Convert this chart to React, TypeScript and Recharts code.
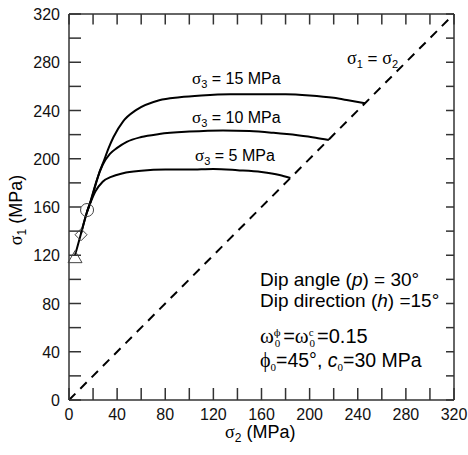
import { ComposedChart, Line, Scatter, XAxis, YAxis } from 'recharts';

// sigma_3 = 5 MPa
const s2Curve5 = [5, 10, 15, 18, 22, 28, 35, 45, 60, 80, 100, 120, 140, 160, 175, 184];
const s1Curve5 = [120, 138, 156, 164, 173, 181, 185, 188, 190, 191, 191, 191.5, 190.5, 189, 186.5, 184];

// sigma_3 = 10 MPa
const s2Curve10 = [10, 15, 18, 20, 23, 28, 34, 40, 48, 60, 75, 100, 128, 150, 170, 190, 205, 216];
const s1Curve10 = [138, 156, 165, 172, 182, 195, 204, 209, 214, 218, 220.5, 222.5, 223.5, 223, 221.5, 219.5, 217.5, 215.5];

// sigma_3 = 15 MPa
const s2Curve15 = [15, 17.5, 20, 22, 25, 28.5, 33, 37, 45, 56, 75, 92, 110, 134, 160, 180, 200, 220, 232, 246];
const s1Curve15 = [156, 163, 171, 178, 188, 197, 209, 218, 231, 240.5, 248.5, 251, 252.5, 253.5, 253.5, 253.5, 252.5, 250.5, 248.5, 246];

// sigma_1 = sigma_2 line
const s2Diag = [0, 320];
const s1Diag = [0, 320];

// start markers
const triangleStart = [{ s2: 5, s1: 118 }];
const diamondStart = [{ s2: 10, s1: 137 }];
const circleStart = [{ s2: 15, s1: 157.5 }];

const tickValues = [0, 20, 40, 60, 80, 100, 120, 140, 160, 180, 200, 220, 240, 260, 280, 300, 320];

const toPoints = (xs: number[], ys: number[]) => xs.map((s2, i) => ({ s2, s1: ys[i] }));

const curve5 = toPoints(s2Curve5, s1Curve5);
const curve10 = toPoints(s2Curve10, s1Curve10);
const curve15 = toPoints(s2Curve15, s1Curve15);
const diag = toPoints(s2Diag, s1Diag);

const sans = 'Liberation Sans, Arial, Helvetica, sans-serif';
const serif = 'Liberation Serif, Times New Roman, serif';
const axisColor = '#333';
const tickLineStyle = { stroke: axisColor, strokeWidth: 1.5 };

// negative tick sizes turn the axis ticks inward
const bottomTickSize = -12;
const leftTickSize = -12;

const isMajor = (v: number) => v % 40 === 0;

function BottomLabel({ x, y, payload }: any) {
  if (!isMajor(payload.value)) return <g />;
  return (
    <text x={x} y={y - bottomTickSize + 20} textAnchor="middle" fontSize={16} fontFamily={sans} fill="#111">
      {payload.value}
    </text>
  );
}

function LeftLabel({ x, y, payload }: any) {
  if (!isMajor(payload.value)) return <g />;
  return (
    <text x={x + leftTickSize - 9} y={y + 6} textAnchor="end" fontSize={16} fontFamily={sans} fill="#111">
      {payload.value}
    </text>
  );
}

const triangleShape = ({ cx, cy }: any) => (
  <polygon
    points={`${cx},${cy - 7} ${cx - 7},${cy + 5} ${cx + 7},${cy + 5}`}
    fill="none"
    stroke="#444"
    strokeWidth={1}
  />
);

const diamondShape = ({ cx, cy }: any) => (
  <polygon
    points={`${cx},${cy - 6} ${cx + 6},${cy} ${cx},${cy + 6} ${cx - 6},${cy}`}
    fill="none"
    stroke="#444"
    strokeWidth={1}
  />
);

const circleShape = ({ cx, cy }: any) => (
  <circle cx={cx} cy={cy} r={6.5} fill="none" stroke="#444" strokeWidth={1} />
);

function Sigma3Label({ x, y, value }: { x: number; y: number; value: string }) {
  return (
    <text x={x} y={y} fontSize={16} fontFamily={sans} fill="#000">
      <tspan fontFamily={serif} fontSize={17}>σ</tspan>
      <tspan fontSize={11} dy={4}>3</tspan>
      <tspan dy={-4}>{` = ${value} MPa`}</tspan>
    </text>
  );
}

export default function App() {
  return (
    <div style={{ position: 'absolute', left: 0, top: 0, background: '#fff' }}>
      <ComposedChart width={468} height={455} margin={{ top: 10, right: 10, bottom: 5, left: 9 }}>
        <XAxis
          xAxisId="bottom"
          dataKey="s2"
          type="number"
          domain={[0, 320]}
          ticks={tickValues}
          interval={0}
          height={50}
          tickSize={bottomTickSize}
          tickMargin={0}
          tickLine={tickLineStyle}
          tick={<BottomLabel />}
          axisLine={{ stroke: axisColor, strokeWidth: 1.5 }}
        />
        <XAxis
          xAxisId="top"
          orientation="top"
          dataKey="s2"
          type="number"
          domain={[0, 320]}
          ticks={tickValues}
          interval={0}
          height={4}
          tickSize={-10.5}
          tickMargin={0}
          tickLine={tickLineStyle}
          tick={<g />}
          axisLine={{ stroke: axisColor, strokeWidth: 1.5 }}
        />
        <YAxis
          yAxisId="left"
          dataKey="s1"
          type="number"
          domain={[0, 320]}
          ticks={tickValues}
          interval={0}
          width={60}
          tickSize={leftTickSize}
          tickMargin={0}
          tickLine={tickLineStyle}
          tick={<LeftLabel />}
          axisLine={{ stroke: axisColor, strokeWidth: 1.5 }}
        />
        <YAxis
          yAxisId="right"
          orientation="right"
          dataKey="s1"
          type="number"
          domain={[0, 320]}
          ticks={tickValues}
          interval={0}
          width={4}
          tickSize={-8}
          tickMargin={0}
          tickLine={tickLineStyle}
          tick={<g />}
          axisLine={{ stroke: axisColor, strokeWidth: 1.5 }}
        />

        <Line
          xAxisId="top"
          yAxisId="right"
          data={diag}
          dataKey="s1"
          type="linear"
          stroke="#000"
          strokeWidth={2}
          strokeDasharray="9 7"
          dot={false}
          activeDot={false}
          isAnimationActive={false}
        />
        <Line
          xAxisId="bottom"
          yAxisId="left"
          data={curve5}
          dataKey="s1"
          type="monotone"
          stroke="#000"
          strokeWidth={2}
          dot={false}
          activeDot={false}
          isAnimationActive={false}
        />
        <Line
          xAxisId="bottom"
          yAxisId="left"
          data={curve10}
          dataKey="s1"
          type="monotone"
          stroke="#000"
          strokeWidth={2}
          dot={false}
          activeDot={false}
          isAnimationActive={false}
        />
        <Line
          xAxisId="bottom"
          yAxisId="left"
          data={curve15}
          dataKey="s1"
          type="monotone"
          stroke="#000"
          strokeWidth={2}
          dot={false}
          activeDot={false}
          isAnimationActive={false}
        />
        <Scatter xAxisId="bottom" yAxisId="left" data={triangleStart} dataKey="s1" shape={triangleShape} isAnimationActive={false} />
        <Scatter xAxisId="bottom" yAxisId="left" data={diamondStart} dataKey="s1" shape={diamondShape} isAnimationActive={false} />
        <Scatter xAxisId="bottom" yAxisId="left" data={circleStart} dataKey="s1" shape={circleShape} isAnimationActive={false} />

        <Sigma3Label x={192} y={84} value="15" />
        <Sigma3Label x={192} y={123} value="10" />
        <Sigma3Label x={195} y={161} value="5" />

        <text x={347} y={64} fontSize={17} fontFamily={sans} fill="#000">
          <tspan fontFamily={serif} fontSize={18}>σ</tspan>
          <tspan fontSize={11} dy={4}>1</tspan>
          <tspan dy={-4}> = </tspan>
          <tspan fontFamily={serif} fontSize={18}>σ</tspan>
          <tspan fontSize={11} dy={4}>2</tspan>
        </text>

        <text x={260} y={286} fontSize={19} fontFamily={sans} fill="#000">
          Dip angle (<tspan fontStyle="italic">p</tspan>) = 30°
        </text>
        <text x={260} y={307} fontSize={19} fontFamily={sans} fill="#000">
          Dip direction (<tspan fontStyle="italic">h</tspan>) =15°
        </text>
        <text x={260} y={343} fontSize={20} fontFamily={sans} fill="#000">
          <tspan fontFamily={serif} fontSize={21}>ω</tspan>
          <tspan fontFamily="DejaVu Serif, serif" fontSize={10} dy={-7}>ϕ</tspan>
          <tspan fontFamily={serif} fontSize={11} dx={-6} dy={11}>0</tspan>
          <tspan dx={3} dy={-4}>=</tspan>
          <tspan fontFamily={serif} fontSize={21}>ω</tspan>
          <tspan fontFamily={serif} fontSize={11} dy={-7}>c</tspan>
          <tspan fontFamily={serif} fontSize={11} dx={-4} dy={11}>0</tspan>
          <tspan dx={2} dy={-4}>=0.15</tspan>
        </text>
        <text x={260} y={367} fontSize={19.5} fontFamily={sans} fill="#000">
          <tspan fontFamily={serif} fontSize={20}>ϕ</tspan>
          <tspan fontFamily={serif} fontSize={11} dy={4}>0</tspan>
          <tspan dy={-4}>=45°, </tspan>
          <tspan fontStyle="italic">c</tspan>
          <tspan fontFamily={serif} fontSize={11} dy={4}>0</tspan>
          <tspan dy={-4}>=30 MPa</tspan>
        </text>

        <text x={225} y={438} fontSize={18} fontFamily={sans} fill="#000">
          <tspan fontFamily={serif}>σ</tspan>
          <tspan fontSize={12} dy={4}>2</tspan>
          <tspan dy={-4}> (MPa)</tspan>
        </text>
        <text
          x={22}
          y={210}
          transform="rotate(-90, 22, 210)"
          textAnchor="middle"
          fontSize={18}
          fontFamily={sans}
          fill="#000"
        >
          <tspan fontFamily={serif}>σ</tspan>
          <tspan fontSize={12} dy={4}>1</tspan>
          <tspan dy={-4}> (MPa)</tspan>
        </text>
      </ComposedChart>
    </div>
  );
}
